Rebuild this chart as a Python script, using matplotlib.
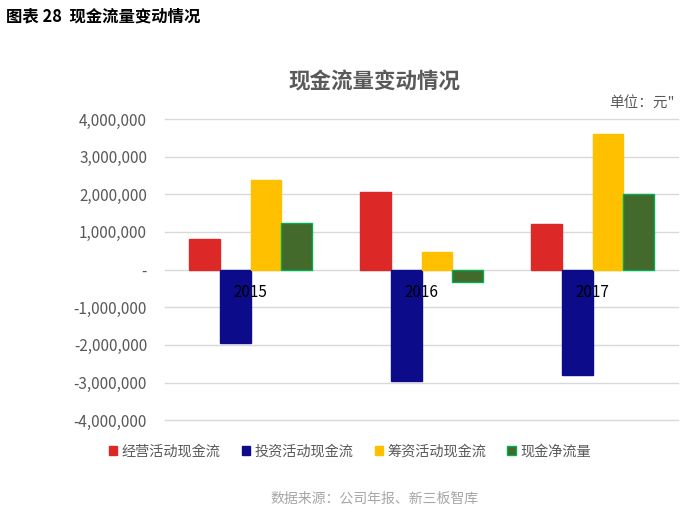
import numpy as np
import matplotlib.pyplot as plt
from matplotlib.ticker import FuncFormatter

plt.rcParams['font.family'] = ['Noto Sans CJK SC', 'DejaVu Sans']

years = ['2015', '2016', '2017']
series = ['经营活动现金流', '投资活动现金流', '筹资活动现金流', '现金净流量']
operating = [800000, 2070000, 1200000]
investing = [-1940000, -2950000, -2790000]
financing = [2370000, 480000, 3590000]
net_flow = [1250000, -320000, 2020000]

colors = ['#DD2828', '#0C0C8A', '#FFC000', '#436A2B']
edges = ['#DD2828', '#0C0C8A', '#FFC000', '#00B050']


def fmt(v, pos):
    if v == 0:
        return '-'
    return '{:,.0f}'.format(v)


def main():
    fig = plt.figure(figsize=(6.94, 5.13), dpi=100)
    ax = fig.add_axes([0.238, 0.181, 0.739, 0.587])

    x = np.arange(len(years))
    w = 0.18
    data = [operating, investing, financing, net_flow]
    for i, vals in enumerate(data):
        ax.bar(x + (i - 1.5) * w, vals, w, color=colors[i], edgecolor=edges[i],
               linewidth=1.0, label=series[i], zorder=3)

    ax.set_xlim(-0.5, 2.5)
    ax.set_ylim(-4000000, 4000000)
    ax.set_yticks(np.arange(-4000000, 4000001, 1000000))
    ax.yaxis.set_major_formatter(FuncFormatter(fmt))
    ax.tick_params(axis='y', length=0, pad=13, labelsize=11, labelcolor='#595959')
    ax.set_xticks([])
    ax.grid(axis='y', color='#D9D9D9', linewidth=1, zorder=0)
    for gl in ax.get_ygridlines():
        gl.set_clip_on(False)
    for s in ax.spines.values():
        s.set_visible(False)

    # category labels sit just under the zero line
    for xi, yr in zip(x, years):
        ax.text(xi, -600000, yr, ha='center', va='center', fontsize=11, color='black', zorder=4)

    fig.text(0.008, 0.967, '图表 28  现金流量变动情况', fontsize=11.8, fontweight='bold',
             ha='left', va='center')
    fig.text(0.54, 0.84, '现金流量变动情况', fontsize=15.5, fontweight='bold',
             color='#595959', ha='center', va='center')
    fig.text(0.972, 0.8, '单位：元"', fontsize=10.5, color='#595959', ha='right', va='center')
    fig.text(0.54, 0.028, '数据来源：公司年报、新三板智库', fontsize=10, color='#A6A6A6',
             ha='center', va='center')

    ax.legend(loc='center', bbox_to_anchor=(0.36, -0.105), ncol=4, frameon=False,
              fontsize=10.2, labelcolor='#595959', handlelength=0.6, handleheight=0.6,
              handletextpad=0.3, columnspacing=1.5)

    fig.savefig('out.png', dpi=100)


if __name__ == "__main__":
    main()
